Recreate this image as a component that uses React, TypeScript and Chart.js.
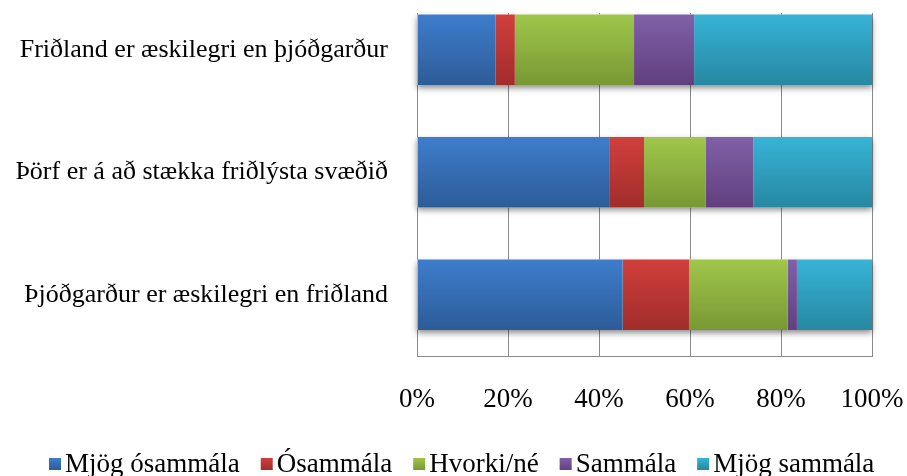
import React, { useEffect, useRef } from 'react';
import { Chart, registerables } from 'chart.js';

Chart.register(...registerables);

// ---- data ----
const categories = [
  'Friðland er æskilegri en þjóðgarður',
  'Þörf er á að stækka friðlýsta svæðið',
  'Þjóðgarður er æskilegri en friðland',
];
const seriesNames = ['Mjög ósammála', 'Ósammála', 'Hvorki/né', 'Sammála', 'Mjög sammála'];
const mjogOsammala = [17.3, 42.4, 45.2];
const osammala = [4.2, 7.5, 14.6];
const hvorkiNe = [26.2, 13.5, 21.7];
const sammala = [13.2, 10.5, 2.0];
const mjogSammala = [39.1, 26.1, 16.5];
const xTickValues = [0, 20, 40, 60, 80, 100];

const seriesValues = [mjogOsammala, osammala, hvorkiNe, sammala, mjogSammala];
const colorsTop = ['#3e7dcc', '#d03f3c', '#a0c64b', '#8060a8', '#37b3d6'];
const colorsBottom = ['#2d5c98', '#a12d2b', '#789833', '#613f7f', '#2788a2'];

const FONT = '"Liberation Serif", "Times New Roman", serif';
const BAR_PCT = 0.575;

function barExtent(chart: any, idx: number) {
  const y = chart.scales.y;
  const c = y.getPixelForValue(idx);
  const spacing = Math.abs(y.getPixelForValue(1) - y.getPixelForValue(0));
  const half = (spacing * BAR_PCT) / 2;
  return { top: c - half, bottom: c + half };
}

function gradientFor(ctx: any, i: number) {
  const chart = ctx.chart;
  if (!chart.chartArea || !chart.scales || !chart.scales.y) return colorsTop[i];
  const { top, bottom } = barExtent(chart, ctx.dataIndex ?? 0);
  if (!isFinite(top) || !isFinite(bottom)) return colorsTop[i];
  const g = chart.ctx.createLinearGradient(0, top, 0, bottom);
  g.addColorStop(0, colorsTop[i]);
  g.addColorStop(1, colorsBottom[i]);
  return g;
}

const shadowPlugin = {
  id: 'barShadow',
  beforeDatasetsDraw(chart: any) {
    const ctx = chart.ctx;
    const x = chart.scales.x;
    ctx.save();
    ctx.shadowColor = 'rgba(0,0,0,0.45)';
    ctx.shadowBlur = 6;
    ctx.shadowOffsetY = 3;
    ctx.fillStyle = '#ffffff';
    categories.forEach((_, i) => {
      const { top, bottom } = barExtent(chart, i);
      const l = x.getPixelForValue(0);
      const r = x.getPixelForValue(100);
      ctx.fillRect(l, top, r - l, bottom - top);
    });
    ctx.restore();
  },
};

const legendPlugin = {
  id: 'customLegend',
  afterDraw(chart: any) {
    const ctx = chart.ctx;
    ctx.save();
    ctx.font = `27px ${FONT}`;
    const box = 12;
    const gap = 4;
    const spacing = 21;
    const widths = seriesNames.map((n) => ctx.measureText(n).width);
    let x = 49;
    const yc = 464;
    seriesNames.forEach((name, i) => {
      const g = ctx.createLinearGradient(0, yc - box / 2, 0, yc + box / 2);
      g.addColorStop(0, colorsTop[i]);
      g.addColorStop(1, colorsBottom[i]);
      ctx.fillStyle = g;
      ctx.fillRect(x, yc - box / 2, box, box);
      ctx.fillStyle = '#000';
      ctx.textBaseline = 'alphabetic';
      ctx.textAlign = 'left';
      ctx.fillText(name, x + box + gap, 472);
      x += box + gap + widths[i] + spacing;
    });
    ctx.restore();
  },
};

export default function App() {
  const ref = useRef<HTMLCanvasElement | null>(null);

  useEffect(() => {
    if (!ref.current) return;
    Chart.defaults.font.family = FONT;
    Chart.defaults.color = '#000';
    const chart = new Chart(ref.current, {
      type: 'bar',
      data: {
        datasets: seriesNames.map((name, i) => ({
          label: name,
          data: seriesValues[i].map((v, j) => ({ x: v, y: j })),
          backgroundColor: (ctx: any) => gradientFor(ctx, i),
          borderWidth: 0,
          barPercentage: BAR_PCT,
          categoryPercentage: 1,
        })),
      },
      options: {
        indexAxis: 'y',
        animation: false,
        responsive: false,
        layout: { padding: { left: 0, right: 35, top: 13, bottom: 0 } },
        plugins: {
          legend: { display: false },
          tooltip: { enabled: false },
        },
        scales: {
          x: {
            type: 'linear',
            stacked: true,
            offset: false,
            min: 0,
            max: 100,
            afterBuildTicks: (scale: any) => {
              scale.ticks = xTickValues.map((v) => ({ value: v }));
            },
            afterFit: (scale: any) => {
              scale.height = 120;
              scale.paddingRight = 0;
              scale.paddingLeft = 0;
            },
            grid: { color: '#8a8a8a', lineWidth: 1, drawTicks: false, offset: false },
            border: { display: true, color: '#8a8a8a' },
            ticks: {
              padding: 28,
              font: { size: 27, family: FONT },
              color: '#000',
              callback: (v: any) => `${v}%`,
            },
          },
          y: {
            type: 'linear',
            stacked: true,
            reverse: true,
            offset: false,
            min: -0.3,
            max: 2.5,
            afterBuildTicks: (scale: any) => {
              scale.ticks = categories.map((_, i) => ({ value: i }));
            },
            afterFit: (scale: any) => {
              scale.width = 417;
              scale.paddingTop = 0;
              scale.paddingBottom = 0;
            },
            grid: { display: false, drawTicks: false, offset: false },
            border: { display: true, color: '#8a8a8a' },
            ticks: {
              padding: 29,
              font: { size: 26, family: FONT },
              color: '#000',
              callback: (v: any) => categories[v] ?? '',
            },
          },
        },
      } as any,
      plugins: [shadowPlugin, legendPlugin],
    });
    return () => chart.destroy();
  }, []);

  return (
    <div style={{ position: 'absolute', left: 0, top: 0, width: 907, height: 476, background: '#fff' }}>
      <canvas ref={ref} width={907} height={476} style={{ display: 'block' }} />
    </div>
  );
}
